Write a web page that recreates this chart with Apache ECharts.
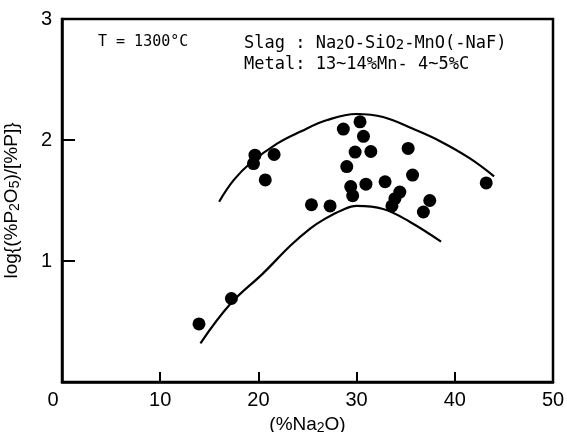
<!DOCTYPE html>
<html>
<head>
<meta charset="UTF-8">
<title>log P partition vs Na2O</title>
<script src="https://cdn.jsdelivr.net/npm/echarts@6/dist/echarts.min.js"></script>
<style>
  html, body { margin: 0; padding: 0; background: #fff; }
  #chart { width: 567px; height: 432px; }
</style>
</head>
<body>
<div id="chart"></div>
<script type="text/javascript">
// measured points: [%Na2O, log{(%P2O5)/[%P]}]
var measured = [
  [13.95, 0.48], [17.25, 0.69], [19.65, 1.875], [19.5, 1.805], [21.6, 1.88],
  [20.7, 1.67], [25.4, 1.465], [27.3, 1.455], [28.65, 2.09], [29.0, 1.78],
  [29.4, 1.615], [29.6, 1.54], [29.85, 1.90], [30.35, 2.15], [30.7, 2.03],
  [30.95, 1.635], [31.45, 1.905], [32.9, 1.655], [35.25, 1.93], [35.7, 1.71],
  [34.4, 1.57], [33.9, 1.515], [33.6, 1.455], [36.8, 1.405], [37.45, 1.5],
  [43.2, 1.645]
];

// upper and lower envelope curves
var upperCurve = [
  [16.0, 1.49], [17.5, 1.67], [19.2, 1.81], [21.9, 1.97], [24.3, 2.07],
  [27.0, 2.165], [30.0, 2.215], [32.7, 2.19], [35.8, 2.09], [38.5, 1.99],
  [41.5, 1.85], [44.0, 1.70]
];
var lowerCurve = [
  [14.1, 0.32], [17.2, 0.65], [20.5, 0.90], [23.3, 1.13], [25.3, 1.27],
  [26.6, 1.34], [28.5, 1.42], [30.0, 1.455], [32.7, 1.43], [35.4, 1.325],
  [38.6, 1.16]
];

var xTicks = [0, 10, 20, 30, 40, 50];
var yTicks = [0, 1, 2, 3];

var chart = echarts.init(document.getElementById('chart'));

var axisFont = 'Liberation Sans, Arial, sans-serif';
var monoFont = 'DejaVu Sans Mono, monospace';

var option = {
  backgroundColor: '#fff',
  animation: false,
  grid: {
    left: 62, right: 14, top: 19, bottom: 50,
    outerBoundsMode: 'none',
    show: true, borderColor: '#000', borderWidth: 2.5, containLabel: false
  },
  xAxis: {
    type: 'value',
    min: xTicks[0], max: xTicks[xTicks.length - 1], interval: 10,
    splitLine: { show: false },
    axisLine: { show: true, lineStyle: { color: '#000', width: 2.5 } },
    axisTick: { show: true, inside: true, length: 10, lineStyle: { color: '#000', width: 2 } },
    axisLabel: {
      color: '#000', fontSize: 20, fontFamily: axisFont, margin: 8,
      formatter: function (v) { return v === 0 ? '{z|0}' : String(v); },
      rich: { z: { fontSize: 20, fontFamily: axisFont, color: '#000', padding: [0, 18, 0, 0] } }
    },
    name: '(%Na{s|2}O)',
    nameLocation: 'middle',
    nameGap: 33,
    nameTextStyle: {
      color: '#000', fontSize: 19, fontFamily: axisFont,
      rich: { s: { fontSize: 14, fontFamily: axisFont, color: '#000', verticalAlign: 'bottom', padding: [6, 0, 0, 0] } }
    }
  },
  yAxis: {
    type: 'value',
    min: yTicks[0], max: yTicks[yTicks.length - 1], interval: 1,
    splitLine: { show: false },
    axisLine: { show: true, lineStyle: { color: '#000', width: 2.5 } },
    axisTick: { show: true, inside: true, length: 13, lineStyle: { color: '#000', width: 2 } },
    axisLabel: {
      color: '#000', fontSize: 20, fontFamily: axisFont, margin: 10,
      formatter: function (v) { return v === 0 ? '' : String(v); }
    },
    name: 'log{(%P{s|2}O{s|5})/[%P]}',
    nameLocation: 'middle',
    nameGap: 40,
    nameTextStyle: {
      color: '#000', fontSize: 19, fontFamily: axisFont,
      rich: { s: { fontSize: 14, fontFamily: axisFont, color: '#000', verticalAlign: 'bottom', padding: [6, 0, 0, 0] } }
    }
  },
  graphic: [
    {
      type: 'text', left: 98, top: 35,
      style: { text: 'T = 1300°C', font: '15px ' + monoFont, fill: '#000' }
    },
    {
      type: 'text', left: 244, top: 35,
      style: {
        text: 'Slag : Na{s|2}O-SiO{s|2}-MnO(-NaF)',
        font: '17px ' + monoFont, fill: '#000',
        rich: { s: { font: '14px ' + monoFont, fill: '#000', verticalAlign: 'bottom', padding: [4, 0, 0, 0] } }
      }
    },
    {
      type: 'text', left: 244, top: 56,
      style: { text: 'Metal: 13~14%Mn- 4~5%C', font: '17px ' + monoFont, fill: '#000' }
    }
  ],
  series: [
    {
      name: 'upper', type: 'line', data: upperCurve, smooth: 0.4,
      showSymbol: false, symbol: 'none',
      lineStyle: { color: '#000', width: 2.2 }
    },
    {
      name: 'lower', type: 'line', data: lowerCurve, smooth: 0.4,
      showSymbol: false, symbol: 'none',
      lineStyle: { color: '#000', width: 2.2 }
    },
    {
      name: 'measured', type: 'scatter', data: measured,
      symbol: 'circle', symbolSize: 13,
      itemStyle: { color: '#000', opacity: 1 }
    }
  ]
};

chart.setOption(option);
</script>
</body>
</html>
